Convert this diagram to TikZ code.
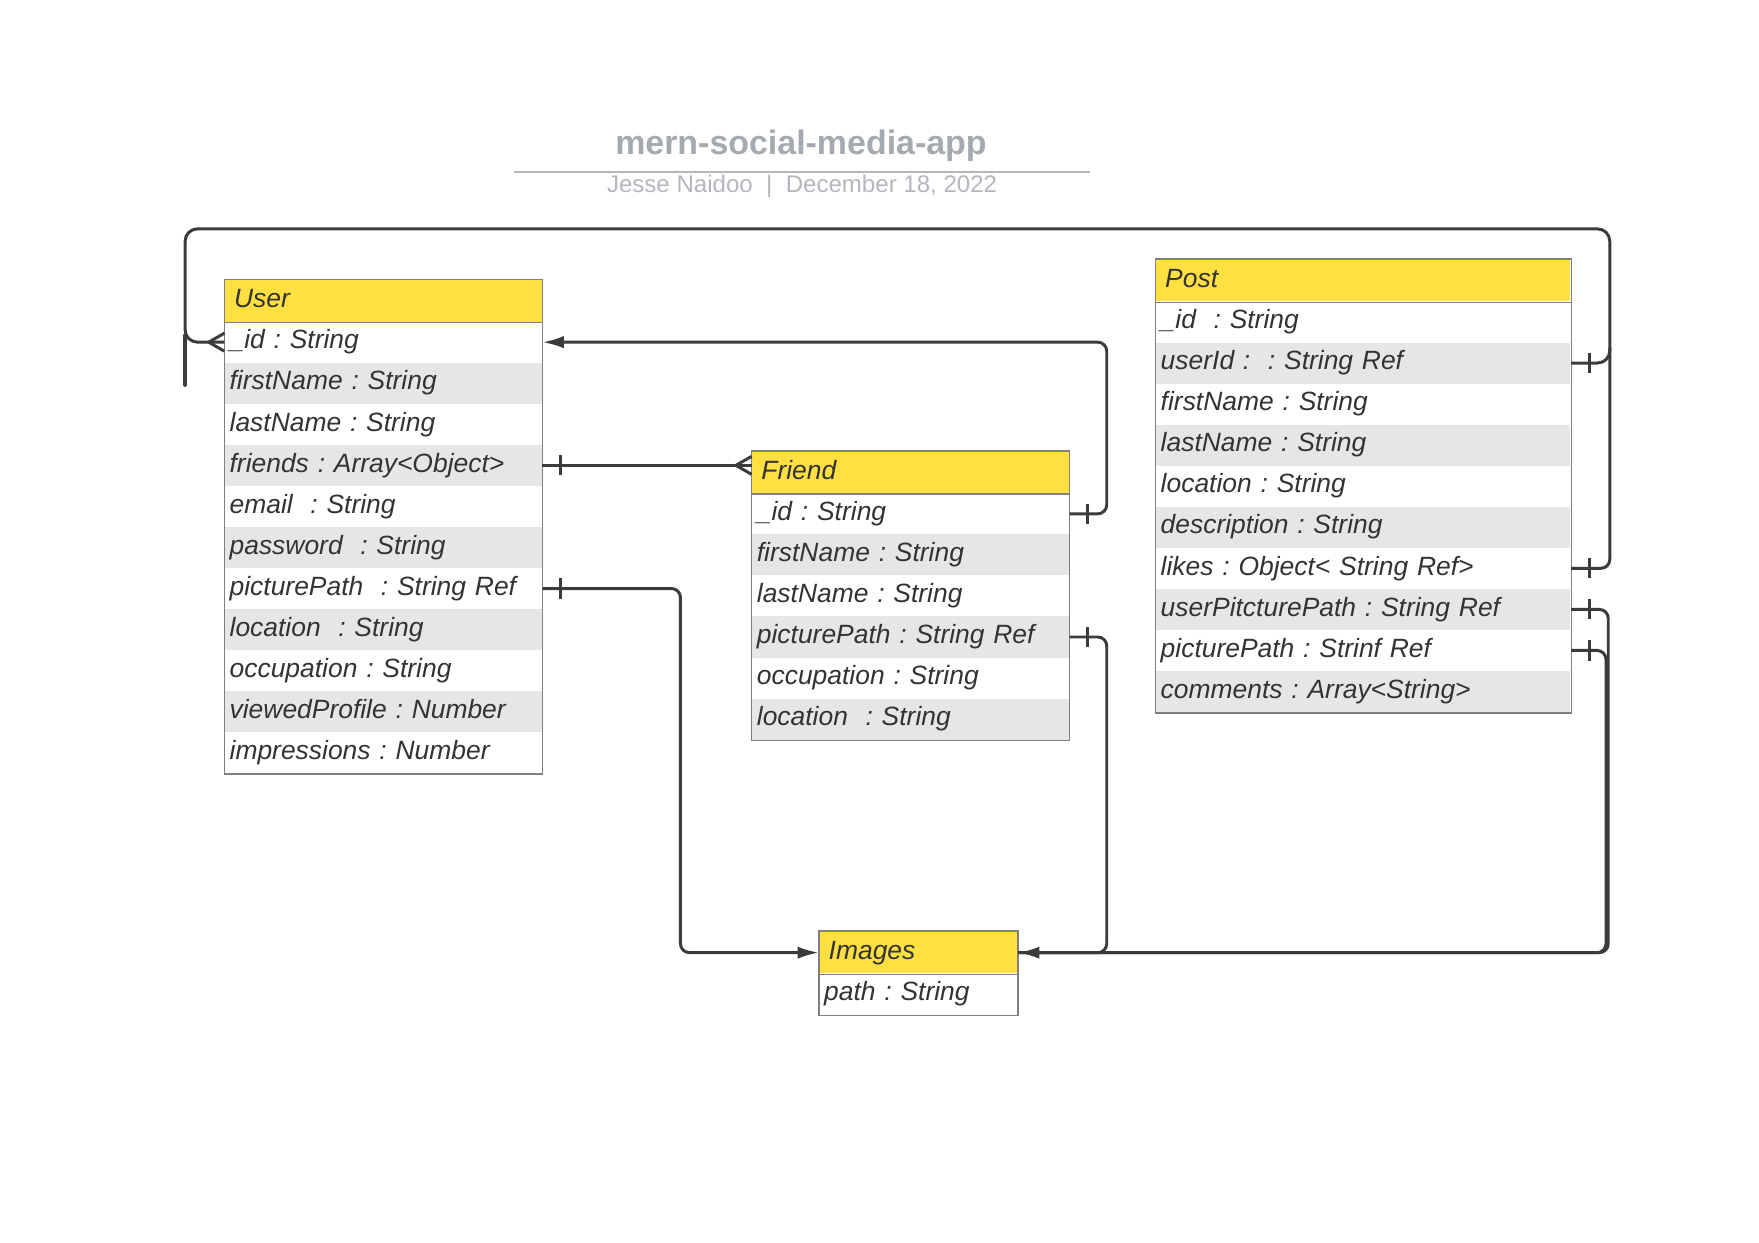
\documentclass[tikz,border=0pt]{standalone}
\usepackage{fontspec}
\setmainfont{Liberation Sans}
\usepackage{tikz}
\usetikzlibrary{arrows.meta,calc,positioning}
\frenchspacing
\definecolor{hdryellow}{HTML}{FFE043}
\definecolor{rowgray}{HTML}{E6E6E6}
\definecolor{inkgray}{HTML}{333333}
\definecolor{wiregray}{HTML}{3B3B3B}
\definecolor{framegray}{HTML}{7F7F7F}
\definecolor{titlegray}{HTML}{A5AAB1}
\definecolor{subgray}{HTML}{B3B7BD}
\tikzstyle{link}   = [draw=wiregray, line width=0.75pt, rounded corners=0.08cm]
\tikzstyle{tip}    = [-{Latex[length=0.19cm,width=0.11cm]}]
\tikzstyle{frame}  = [draw=framegray, line width=0.35pt]
\tikzstyle{hdr}    = [fill=hdryellow, anchor=north west, inner xsep=0.08cm, inner ysep=0pt,
                      minimum height=0.37cm, text height=4.9pt, text depth=1.5pt, align=left,
                      font=\fontsize{6.7}{8}\selectfont\itshape, text=inkgray]
\tikzstyle{field}  = [hdr, inner xsep=0.04cm, minimum height=0.366cm]

\begin{document}
\begin{tikzpicture}[x=0.01cm, y=-0.01cm]
        \useasboundingbox (0,0) rectangle (1568,1108);
        % title block
        \node[font=\bfseries\fontsize{8.6}{10}\selectfont, text=titlegray] (title) at (714,130) {mern-social-media-app};
        \draw[draw=subgray, line width=0.45pt] (458,153) -- (972,153);
        \node[font=\fontsize{6.1}{7}\selectfont, text=subgray] (byline) at (715,166) {Jesse Naidoo\ \ |\ \ December 18, 2022};

        % User
        \node[hdr, text width=2.66cm] (user-h) at (200,249) {User};
        \foreach \f [count=\i from 0] in {\_id : String, firstName : String, lastName : String,
            friends : Array<Object>, email\ \ : String, password\ \ : String, picturePath\ \ : String Ref,
            location\ \ : String, occupation : String, viewedProfile : Number, impressions : Number}
        {
            \ifodd\i \colorlet{rowfill}{rowgray}\else\colorlet{rowfill}{white}\fi
            \node[field, fill=rowfill, text width=2.74cm] (user-\i) at (200,{286+36.6*\i}) {\f};
        }
        \draw[frame] (user-h.north west) rectangle (user-10.south east);
        \draw[frame] (user-h.south west) -- (user-h.south east);

        % Friend
        \node[hdr, text width=2.66cm] (friend-h) at (670,402) {Friend};
        \foreach \f [count=\i from 0] in {\_id : String, firstName : String, lastName : String,
            picturePath : String Ref, occupation : String, location\ \ : String}
        {
            \ifodd\i \colorlet{rowfill}{rowgray}\else\colorlet{rowfill}{white}\fi
            \node[field, fill=rowfill, text width=2.74cm] (friend-\i) at (670,{439+36.6*\i}) {\f};
        }
        \draw[frame] (friend-h.north west) rectangle (friend-5.south east);
        \draw[frame] (friend-h.south west) -- (friend-h.south east);

        % Post
        \node[hdr, text width=3.53cm] (post-h) at (1030,231) {Post};
        \foreach \f [count=\i from 0] in {\_id\ \ : String, userId :\ \ : String Ref, firstName : String,
            lastName : String, location : String, description : String, likes : Object< String Ref>,
            userPitcturePath : String Ref, picturePath : Strinf Ref, comments : Array<String>}
        {
            \ifodd\i \colorlet{rowfill}{rowgray}\else\colorlet{rowfill}{white}\fi
            \node[field, fill=rowfill, text width=3.61cm] (post-\i) at (1030,{268+36.6*\i}) {\f};
        }
        \draw[frame] (post-h.north west) rectangle (post-9.south east);
        \draw[frame] (post-h.south west) -- (post-h.south east);

        % Images
        \node[hdr, text width=1.60cm] (img-h) at (730,830) {Images};
        \foreach \f [count=\i from 0] in {path : String}
        {
            \node[field, fill=white, text width=1.68cm] (img-\i) at (730,{867+36.6*\i}) {\f};
        }
        \draw[frame] (img-h.north west) rectangle (img-0.south east);
        \draw[frame] (img-h.south west) -- (img-h.south east);

        % relations
        \coordinate (railR) at (1435,204);
        \coordinate (railL) at (165,204);
        \coordinate (stubL) at (165,343);
        \coordinate (cfU) at (user-0.west);
        \coordinate (cfF) at (user-3.east -| friend-h.west);

        \draw[link, rounded corners=0.11cm] (post-1.east) -| (railR) -- (railL) |- (cfU);
        \draw[link] (post-6.east) -| ($(railR |- post-1.east)+(0,-14)$);
        \draw[link, line width=1.05pt, line cap=round] ($(cfU -| railL)+(0,-6)$) -- (stubL);
        \draw[link] (user-3.east) -- (cfF);
        \draw[link,tip] (friend-0.east) -- ++(33,0) |- (user-0.east);
        \draw[link,tip] (user-6.east) -- ++(123,0) |- (img-h.west);
        \draw[link,tip] (friend-3.east) -- ++(33,0) |- (img-h.east);
        \draw[link] (post-7.east) -- ++(33,0) |- (img-h.east);
        \draw[link] (post-8.east) -- ++(31,0) |- (img-h.east);

        \foreach \r in {user-3,user-6,friend-0,friend-3,post-1,post-6,post-7,post-8}
            \draw[link] ($(\r.east)+(16,-9)$) -- ++(0,18);
        \foreach \c in {cfU,cfF}
            \draw[link, sharp corners] ($(\c)+(0,-8)$) -- ($(\c)+(-14,0)$) -- ($(\c)+(0,8)$);
\end{tikzpicture}
\end{document}
